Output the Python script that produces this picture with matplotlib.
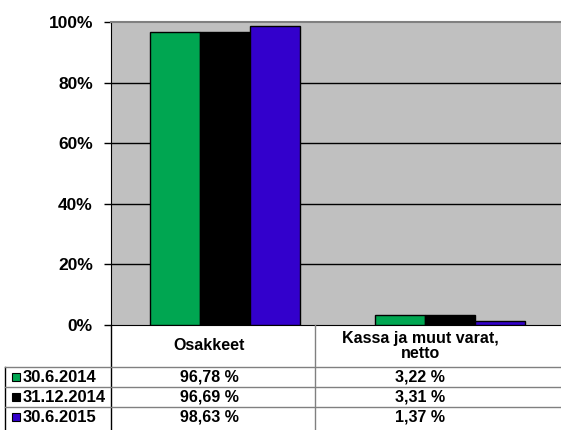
import matplotlib
matplotlib.use("Agg")
import matplotlib.pyplot as plt
from matplotlib.lines import Line2D
from matplotlib.patches import Rectangle
import numpy as np

plt.rcParams['font.family'] = ['Liberation Sans', 'DejaVu Sans']
plt.rcParams['font.weight'] = 'bold'

categories = ["Osakkeet", "Kassa ja muut varat,\nnetto"]
series = ["30.6.2014", "31.12.2014", "30.6.2015"]
values = [[96.78, 3.22],
          [96.69, 3.31],
          [98.63, 1.37]]
labels = [["96,78 %", "3,22 %"],
          ["96,69 %", "3,31 %"],
          ["98,63 %", "1,37 %"]]
colors = ["#00A651", "#000000", "#3300CC"]
yticks = [0, 20, 40, 60, 80, 100]

W, H = 561, 430
fig = plt.figure(figsize=(W / 100, H / 100), dpi=100)

# plot area in pixels
px_l, px_r, px_t, px_b = 111, 561, 22, 325
ax = fig.add_axes([px_l / W, 1 - px_b / H, (px_r - px_l) / W, (px_b - px_t) / H])
ax.set_facecolor("#C0C0C0")

x = np.arange(len(categories))
bw = 0.222
for i, s in enumerate(series):
    ax.bar(x + (i - 1) * bw + 0.005, values[i], width=bw, color=colors[i],
           edgecolor="black", linewidth=1, zorder=3)

ax.set_xlim(-0.5, 1.5)
ax.set_ylim(0, 100)
ax.set_yticks(yticks)
ax.set_yticklabels(["%d%%" % v for v in yticks], fontsize=12.5, fontweight="bold")
ax.set_xticks([])
for v in yticks[1:-1]:
    ax.axhline(v, color="black", linewidth=1, zorder=1)
ax.tick_params(axis="y", length=5, width=1, pad=8)
ax.spines["top"].set_color("#808080")
ax.spines["top"].set_linewidth(1.5)
ax.spines["right"].set_visible(False)
ax.spines["bottom"].set_color("black")
ax.spines["left"].set_color("black")

# data table below the plot
def fx(p):
    return p / W

def fy(p):
    return 1 - p / H

grey = "#808080"
row_lines = [367, 387, 407, 427]
fig.add_artist(Line2D([fx(111), fx(111)], [fy(325), fy(430)], color="black", lw=1))
fig.add_artist(Line2D([fx(5), fx(5)], [fy(367), fy(430)], color="black", lw=1))
fig.add_artist(Line2D([fx(315), fx(315)], [fy(325), fy(430)], color=grey, lw=1))
for r in row_lines[:-1]:
    fig.add_artist(Line2D([fx(5), fx(561)], [fy(r), fy(r)], color=grey, lw=1))

col_centers = [(111 + 315) / 2 - 4, (315 + 525) / 2]
for j, c in enumerate(categories):
    fig.text(fx(col_centers[j]), fy(346), c, ha="center", va="center",
             fontsize=11.5, fontweight="bold", linespacing=1.0)

for i, s in enumerate(series):
    yc = (row_lines[i] + row_lines[i + 1]) / 2
    fig.add_artist(Rectangle((fx(12), fy(yc + 4)), 8 / W, 8 / H,
                             facecolor=colors[i], edgecolor="black", lw=0.8))
    fig.text(fx(23), fy(yc), s, ha="left", va="center", fontsize=12, fontweight="bold")
    for j in range(len(categories)):
        fig.text(fx(col_centers[j]), fy(yc), labels[i][j], ha="center", va="center",
                 fontsize=11.5, fontweight="bold")

fig.savefig("out.png", dpi=100)
